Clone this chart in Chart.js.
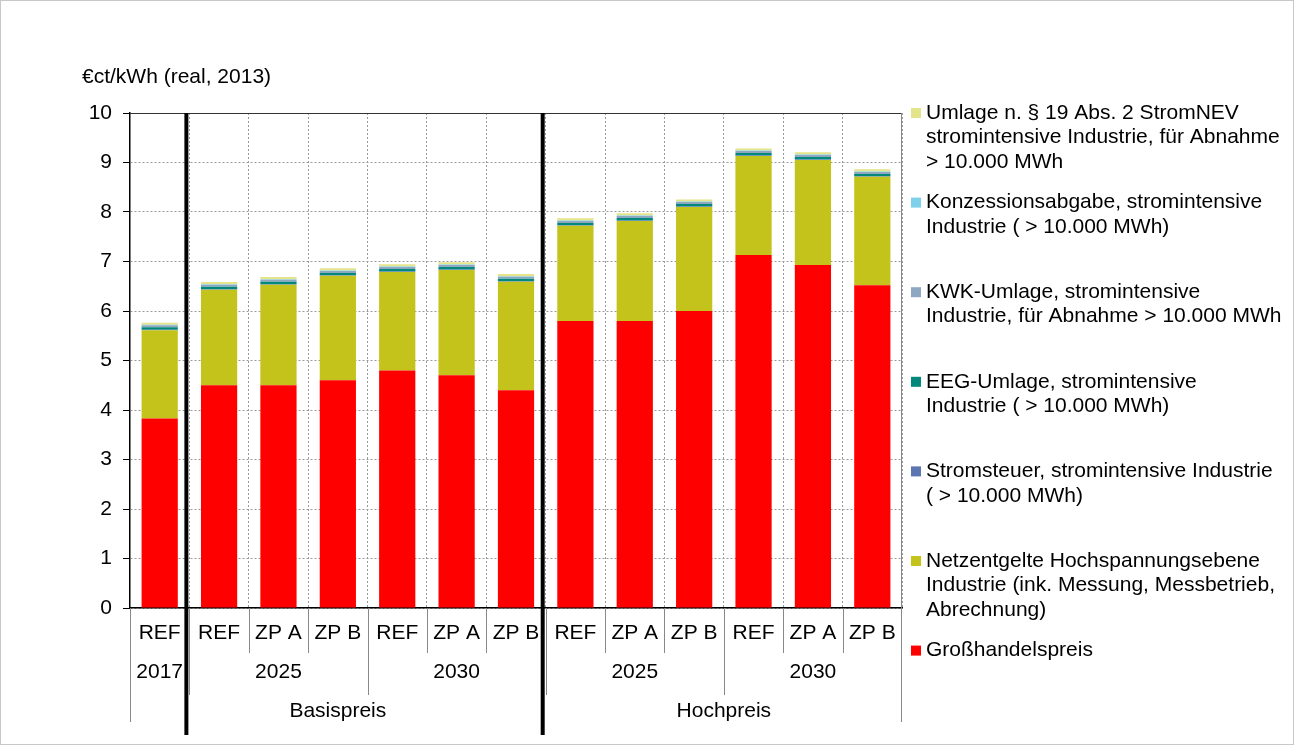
<!DOCTYPE html>
<html>
<head>
<meta charset="utf-8">
<script src="https://cdn.jsdelivr.net/npm/chart.js@4.4.0/dist/chart.umd.min.js"></script>
<style>
  html, body { margin: 0; padding: 0; background: #fff; }
</style>
</head>
<body>
<canvas id="myChart" width="1294" height="745"></canvas>
<script>
// categories (bottom row) and the grouping rows under them
const categories = ['REF', 'REF', 'ZP A', 'ZP B', 'REF', 'ZP A', 'ZP B', 'REF', 'ZP A', 'ZP B', 'REF', 'ZP A', 'ZP B'];
const yearLabels = ['2017', '2025', '2030', '2025', '2030'];
const yearSpans = [1, 3, 3, 3, 3];
const priceLabels = ['Basispreis', 'Hochpreis'];
const priceSpans = [7, 6];
const yTicks = [0, 1, 2, 3, 4, 5, 6, 7, 8, 9, 10];

// series, €ct/kWh
const grosshandel  = [3.83, 4.50, 4.50, 4.60, 4.80, 4.70, 4.40, 5.80, 5.80, 6.00, 7.13, 6.93, 6.52];
const netzentgelte = [1.78, 1.93, 2.03, 2.11, 1.99, 2.13, 2.19, 1.92, 2.02, 2.10, 2.00, 2.12, 2.19];
const stromsteuer  = [0.01, 0.01, 0.01, 0.01, 0.01, 0.01, 0.01, 0.01, 0.01, 0.01, 0.01, 0.01, 0.01];
const eegUmlage    = [0.05, 0.05, 0.05, 0.05, 0.05, 0.05, 0.05, 0.05, 0.05, 0.05, 0.05, 0.05, 0.05];
const kwkUmlage    = [0.04, 0.04, 0.04, 0.04, 0.04, 0.04, 0.04, 0.04, 0.04, 0.04, 0.04, 0.04, 0.04];
const konzession   = [0.01, 0.01, 0.01, 0.01, 0.01, 0.01, 0.01, 0.01, 0.01, 0.01, 0.01, 0.01, 0.01];
const umlage19     = [0.045, 0.045, 0.045, 0.045, 0.045, 0.045, 0.045, 0.045, 0.045, 0.045, 0.045, 0.045, 0.045];

const FONT = '"Liberation Sans", Arial, sans-serif';
const FSIZE = 21;

function ds(label, data, color) {
  return { label: label, data: data, backgroundColor: color, borderWidth: 0,
           barPercentage: 0.61, categoryPercentage: 1 };
}

const datasets = [
  ds('Großhandelspreis', grosshandel, '#ff0000'),
  ds('Netzentgelte Hochspannungsebene\nIndustrie (ink. Messung, Messbetrieb,\nAbrechnung)', netzentgelte, '#c3c31b'),
  ds('Stromsteuer, stromintensive Industrie\n( > 10.000 MWh)', stromsteuer, '#5b76b0'),
  ds('EEG-Umlage, stromintensive\nIndustrie ( > 10.000 MWh)', eegUmlage, '#00897b'),
  ds('KWK-Umlage, stromintensive\nIndustrie, für Abnahme > 10.000 MWh', kwkUmlage, '#8ea8c2'),
  ds('Konzessionsabgabe, stromintensive\nIndustrie ( > 10.000 MWh)', konzession, '#7fd0ea'),
  ds('Umlage n. § 19 Abs. 2 StromNEV\nstromintensive Industrie, für Abnahme\n> 10.000 MWh', umlage19, '#e4e48a')
];

const decor = {
  id: 'decor',
  beforeDraw(chart) {
    const ctx = chart.ctx;
    ctx.save();
    ctx.fillStyle = '#fff';
    ctx.fillRect(0, 0, chart.width, chart.height);
    ctx.strokeStyle = '#c8c8c8';
    ctx.lineWidth = 1;
    ctx.strokeRect(0.5, 0.5, chart.width - 1, chart.height - 1);
    ctx.restore();
  },
  afterDraw(chart) {
    const ctx = chart.ctx;
    const a = chart.chartArea;
    const x = chart.scales.x;
    const n = categories.length;
    const bound = i => {
      if (i <= 0) return a.left;
      if (i >= n) return a.right;
      return (x.getPixelForValue(i - 1) + x.getPixelForValue(i)) / 2;
    };
    const line = (x1, y1, x2, y2, w, c) => {
      ctx.beginPath();
      ctx.lineWidth = w;
      ctx.strokeStyle = c;
      ctx.moveTo(x1, y1);
      ctx.lineTo(x2, y2);
      ctx.stroke();
    };
    ctx.save();

    // top and right frame of the plot
    line(a.left, a.top + 0.5, a.right, a.top + 0.5, 1, '#333');
    line(a.right - 0.5, a.top, a.right - 0.5, a.bottom + 114, 1, '#888');

    // axis label rows
    ctx.fillStyle = '#000';
    ctx.font = FSIZE + 'px ' + FONT;
    ctx.textAlign = 'center';
    ctx.textBaseline = 'middle';
    for (let i = 1; i < n; i++) {
      line(Math.round(bound(i)) + 0.5, a.bottom, Math.round(bound(i)) + 0.5, a.bottom + 45, 1, '#888');
    }
    categories.forEach((c, i) => ctx.fillText(c, x.getPixelForValue(i), a.bottom + 25));

    let s = 0;
    yearLabels.forEach((lab, k) => {
      const l = bound(s), r = bound(s + yearSpans[k]);
      ctx.fillText(lab, (l + r) / 2, a.bottom + 64);
      s += yearSpans[k];
      if (s < n) line(Math.round(r) + 0.5, a.bottom, Math.round(r) + 0.5, a.bottom + 87, 1, '#888');
    });
    line(a.left + 0.5, a.bottom, a.left + 0.5, a.bottom + 114, 1, '#888');

    s = 0;
    priceLabels.forEach((lab, k) => {
      const l = bound(s), r = bound(s + priceSpans[k]);
      ctx.fillText(lab, (l + r) / 2, a.bottom + 103);
      s += priceSpans[k];
    });

    // thick separators between the blocks
    [1, 7].forEach(i => line(bound(i) - 3, a.top, bound(i) - 3, 735, 4, '#000'));

    // axis title
    ctx.textAlign = 'left';
    ctx.fillText('€ct/kWh (real, 2013)', 82, 77);

    // legend (top item = last dataset)
    const items = chart.data.datasets.slice().reverse();
    items.forEach((d, k) => {
      const y0 = 113 + k * 89.6;
      ctx.fillStyle = d.backgroundColor;
      ctx.fillRect(911, y0 - 5, 10, 10);
      ctx.fillStyle = '#000';
      d.label.split('\n').forEach((t, j) => ctx.fillText(t, 926, y0 + j * 24.5));
    });
    ctx.restore();
  }
};

new Chart('myChart', {
  type: 'bar',
  data: { labels: categories, datasets: datasets },
  options: {
    responsive: false,
    animation: false,
    layout: { padding: { left: 0, top: 113, right: 392, bottom: 0 } },
    plugins: { legend: { display: false }, tooltip: { enabled: false } },
    scales: {
      x: {
        stacked: true,
        ticks: { display: false },
        grid: { color: '#9a9a9a', drawTicks: false, offset: true },
        border: { color: '#000', width: 1.5, dash: [2, 2] },
        afterFit(scale) { scale.height = 137; }
      },
      y: {
        stacked: true,
        min: yTicks[0],
        max: yTicks[yTicks.length - 1],
        afterBuildTicks(scale) { scale.ticks = yTicks.map(v => ({ value: v })); },
        ticks: { color: '#000', padding: 11, font: { size: FSIZE, family: FONT } },
        grid: { color: '#9a9a9a', tickColor: '#000', tickLength: 7 },
        border: { color: '#000', width: 1.5, dash: [2, 2] },
        afterFit(scale) { scale.width = 130; }
      }
    }
  },
  plugins: [decor]
});
</script>
</body>
</html>
